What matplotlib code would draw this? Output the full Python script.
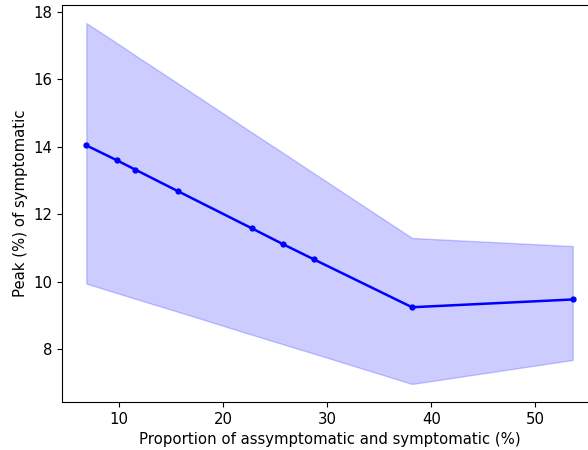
import numpy as np
import matplotlib
matplotlib.use('Agg')
import matplotlib.pyplot as plt

# data
proportion = [6.85, 9.78, 11.57, 15.62, 22.73, 25.8, 28.7, 38.16, 53.6]
peak = [14.04, 13.6, 13.32, 12.69, 11.59, 11.11, 10.67, 9.25, 9.48]
peak_upper = [17.66, 17.07, 16.70, 15.88, 14.43, 13.81, 13.22, 11.30, 11.06]
peak_lower = [9.95, 9.67, 9.50, 9.12, 8.44, 8.15, 7.88, 6.98, 7.69]

fig = plt.figure(figsize=(5.88, 4.5), dpi=100)
# right spine runs off the image in the reference
ax = fig.add_axes([62 / 588, 48 / 450, 535 / 588, 397 / 450])

ax.fill_between(proportion, peak_lower, peak_upper, color='blue', alpha=0.2)
ax.plot(proportion, peak, color='blue', marker='o', markersize=3.5, linewidth=1.8)

ax.set_xlabel('Proportion of assymptomatic and symptomatic (%)', fontsize=10.7)
ax.set_ylabel('Peak (%) of symptomatic', fontsize=10.7)
ax.tick_params(labelsize=10.7)
ax.set_xticks([10, 20, 30, 40, 50])
ax.set_yticks([8, 10, 12, 14, 16, 18])

fig.savefig('out.png', dpi=100)
